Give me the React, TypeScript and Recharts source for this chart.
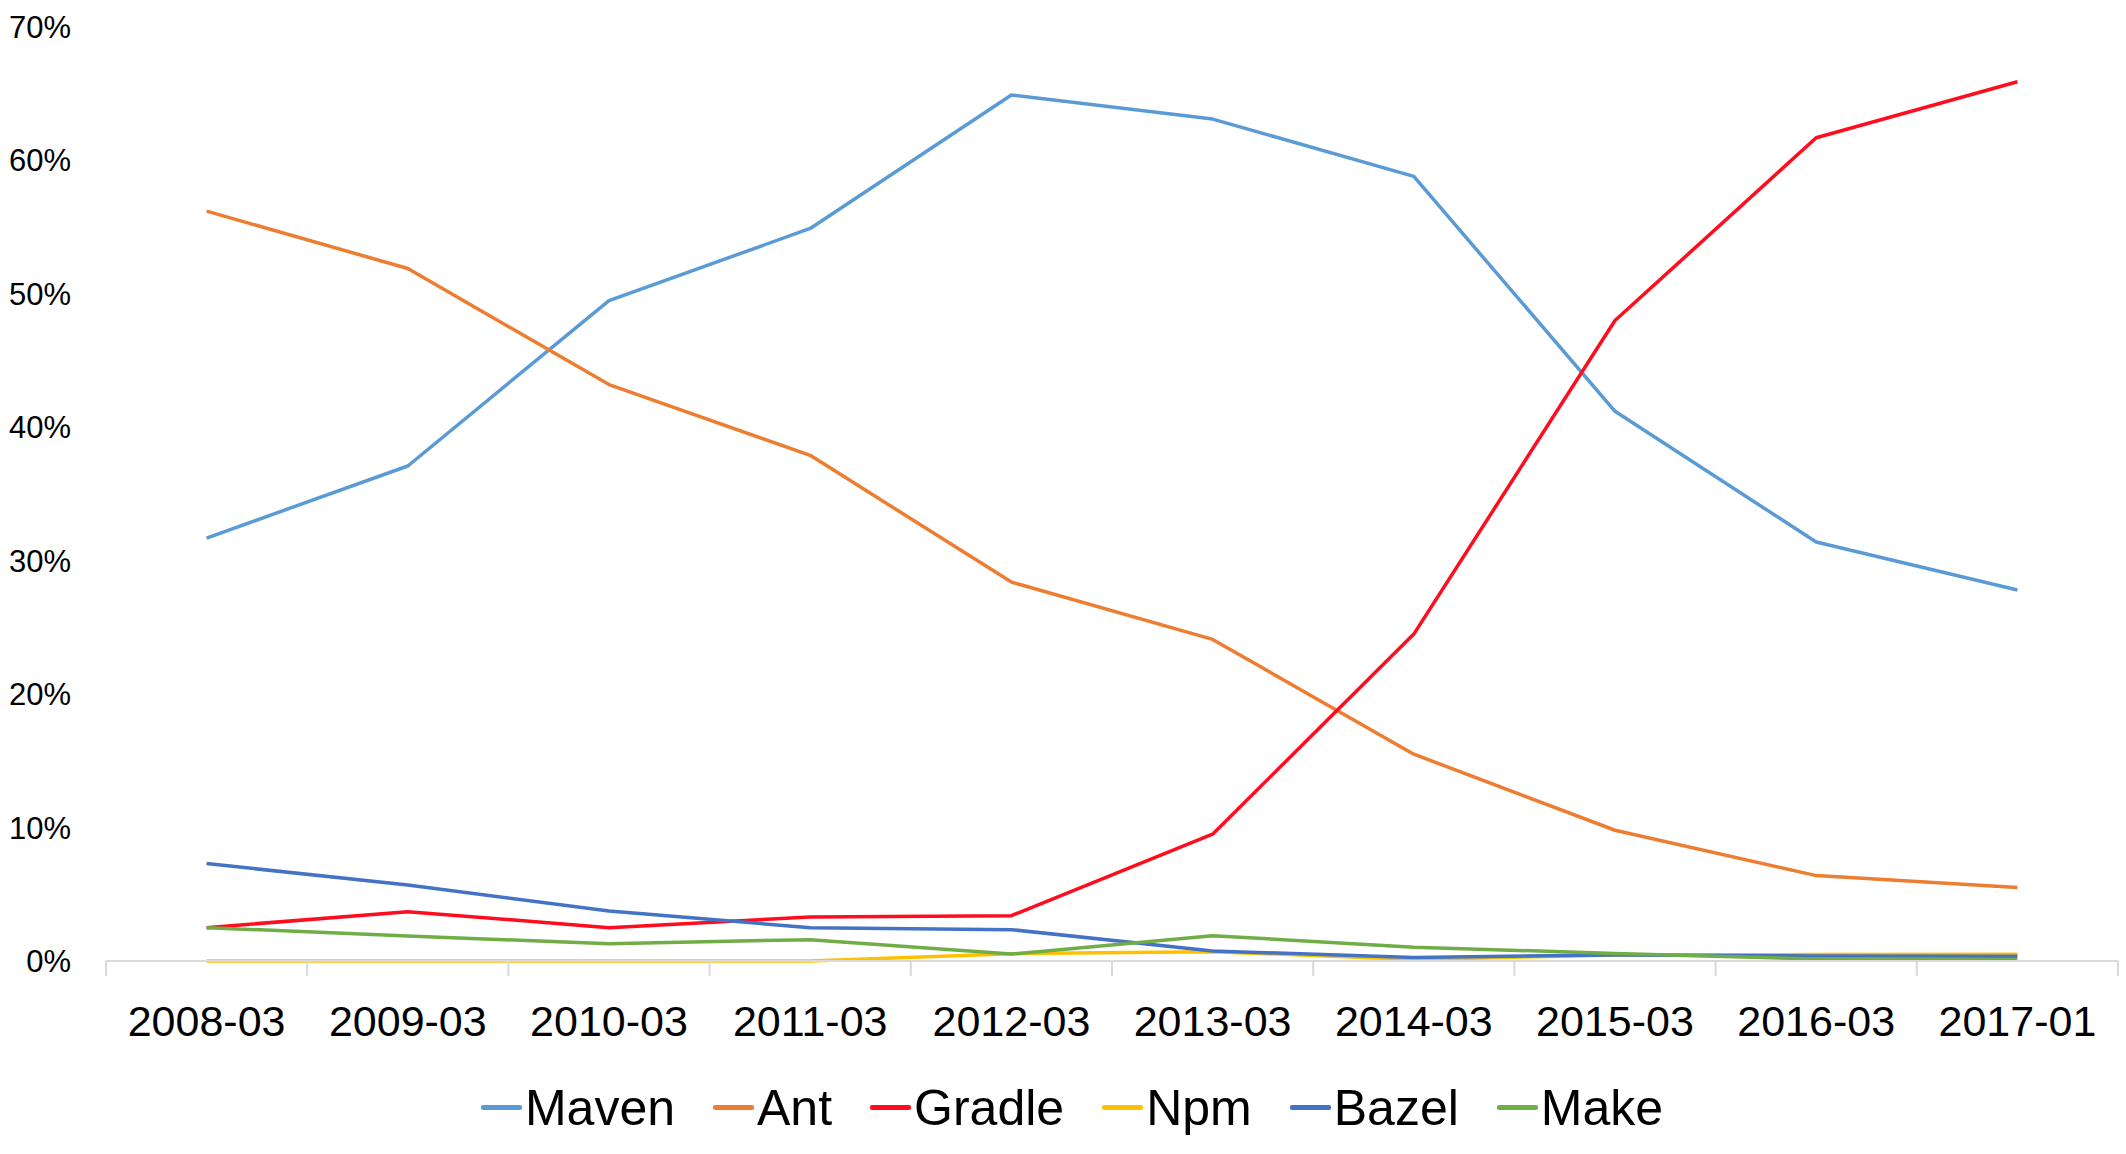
import React from "react";
import { LineChart, Line, XAxis, YAxis, Legend } from "recharts";

// snapshot months
const months = [
  "2008-03",
  "2009-03",
  "2010-03",
  "2011-03",
  "2012-03",
  "2013-03",
  "2014-03",
  "2015-03",
  "2016-03",
  "2017-01",
];

// share of projects per build tool, in %
const maven = [31.7, 37.1, 49.5, 54.9, 64.9, 63.1, 58.8, 41.2, 31.4, 27.8];
const ant = [56.2, 51.9, 43.2, 37.9, 28.4, 24.1, 15.5, 9.8, 6.4, 5.5];
const gradle = [2.5, 3.7, 2.5, 3.3, 3.4, 9.5, 24.5, 48.0, 61.7, 65.9];
const npm = [0, 0, 0, 0, 0.55, 0.7, 0.12, 0.45, 0.48, 0.5];
const bazel = [7.3, 5.7, 3.75, 2.5, 2.35, 0.75, 0.27, 0.45, 0.37, 0.35];
const make = [2.5, 1.87, 1.3, 1.6, 0.52, 1.9, 1.03, 0.57, 0.15, 0.12];

const yTicks = [0, 10, 20, 30, 40, 50, 60, 70];

const series = [
  { key: "Maven", values: maven, color: "#5B9BD5" },
  { key: "Ant", values: ant, color: "#ED7D31" },
  { key: "Gradle", values: gradle, color: "#FF0D1F" },
  { key: "Npm", values: npm, color: "#FFC000" },
  { key: "Bazel", values: bazel, color: "#4472C4" },
  { key: "Make", values: make, color: "#70AD47" },
];

const chartData = months.map((month, i) => {
  const row: Record<string, string | number> = { month };
  series.forEach((s) => {
    row[s.key] = s.values[i];
  });
  return row;
});

const FONT = "'Liberation Sans', Arial, sans-serif";
const LABEL_GAP = 44;
const AXIS_GRAY = "#D9D9D9";

// label in the middle of the band, tick marks on the band edges
const CategoryTick = (props: any) => {
  const { x, y, payload, index, visibleTicksCount } = props;
  const half = payload.offset ?? 0;
  const axisY = y - LABEL_GAP;
  return (
    <g>
      <line
        x1={x - half}
        x2={x - half}
        y1={axisY}
        y2={axisY + 15}
        stroke={AXIS_GRAY}
        strokeWidth={2}
      />
      {index === visibleTicksCount - 1 && (
        <line
          x1={x + half}
          x2={x + half}
          y1={axisY}
          y2={axisY + 15}
          stroke={AXIS_GRAY}
          strokeWidth={2}
        />
      )}
      <text
        x={x}
        y={y}
        dy="0.71em"
        textAnchor="middle"
        fill="#000"
        fontSize={43}
        fontFamily={FONT}
      >
        {payload.value}
      </text>
    </g>
  );
};

const LegendRow = () => (
  <div
    style={{
      height: 93,
      display: "flex",
      justifyContent: "center",
      alignItems: "center",
      paddingLeft: 26,
      fontFamily: FONT,
      fontSize: 50,
      color: "#000",
    }}
  >
    {series.map((s) => (
      <div
        key={s.key}
        style={{ display: "flex", alignItems: "center", margin: "0 19px" }}
      >
        <span
          style={{
            display: "inline-block",
            width: 41,
            height: 5,
            borderRadius: 2,
            background: s.color,
            marginRight: 3,
          }}
        />
        <span>{s.key}</span>
      </div>
    ))}
  </div>
);

export default function App() {
  return (
    <div
      style={{
        position: "absolute",
        left: 0,
        top: 0,
        width: 2126,
        height: 1154,
        background: "#fff",
      }}
    >
      <LineChart
        width={2126}
        height={1154}
        data={chartData}
        margin={{ top: 27, right: 8, bottom: 0, left: 0 }}
      >
        <XAxis
          dataKey="month"
          scale="band"
          interval={0}
          height={100}
          tickLine={false}
          tickSize={0}
          tickMargin={LABEL_GAP}
          axisLine={{ stroke: AXIS_GRAY, strokeWidth: 2 }}
          tick={<CategoryTick />}
        />
        <YAxis
          width={106}
          domain={[0, 70]}
          ticks={yTicks}
          tickFormatter={(v) => `${v}%`}
          axisLine={false}
          tickLine={false}
          tickSize={0}
          tickMargin={35}
          tick={{ fill: "#000", fontSize: 31, fontFamily: FONT }}
        />
        <Legend
          verticalAlign="bottom"
          height={93}
          content={() => <LegendRow />}
        />
        {series.map((s) => (
          <Line
            key={s.key}
            dataKey={s.key}
            stroke={s.color}
            strokeWidth={3.5}
            strokeLinejoin="round"
            dot={false}
            activeDot={false}
            isAnimationActive={false}
          />
        ))}
      </LineChart>
    </div>
  );
}
